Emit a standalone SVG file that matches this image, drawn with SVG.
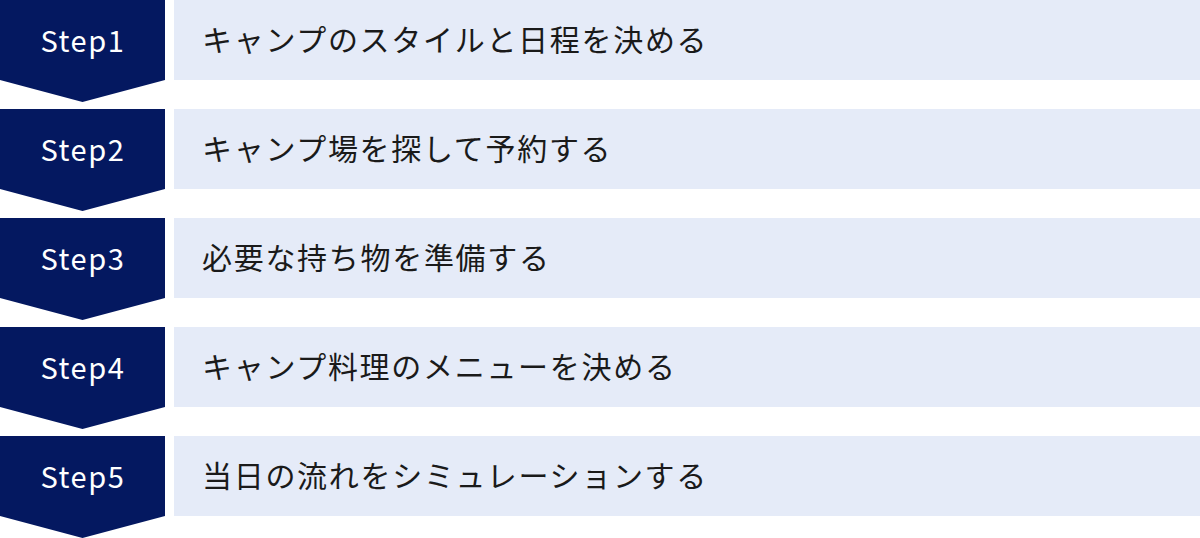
<svg xmlns="http://www.w3.org/2000/svg" width="1200" height="538" viewBox="0 0 1200 538">
  <defs>
    <style>
      .badge { fill: #041860; }
      .bar { fill: #E5EBF8; }
      .step { fill: #ffffff; font-family: "Noto Sans CJK JP", "Noto Sans", sans-serif; font-size: 29px; letter-spacing: 1.6px; text-anchor: middle; }
      .label { fill: #1a1a1a; font-family: "Noto Sans CJK JP", sans-serif; font-size: 30px; letter-spacing: 1.7px; }
    </style>
    <path id="chev" d="M0 0 H165 V80 L82.5 102 L0 80 Z"/>
  </defs>
  <g id="connectors"></g>
  <g id="step1" transform="translate(0,0)">
    <use href="#chev" class="badge"/>
    <rect class="bar" x="174" y="0" width="1026" height="80"/>
    <text class="step" x="83" y="52">Step1</text>
    <text class="label" x="202" y="51">キャンプのスタイルと日程を決める</text>
  </g>
  <g id="step2" transform="translate(0,109)">
    <use href="#chev" class="badge"/>
    <rect class="bar" x="174" y="0" width="1026" height="80"/>
    <text class="step" x="83" y="52">Step2</text>
    <text class="label" x="202" y="51">キャンプ場を探して予約する</text>
  </g>
  <g id="step3" transform="translate(0,218)">
    <use href="#chev" class="badge"/>
    <rect class="bar" x="174" y="0" width="1026" height="80"/>
    <text class="step" x="83" y="52">Step3</text>
    <text class="label" x="202" y="51">必要な持ち物を準備する</text>
  </g>
  <g id="step4" transform="translate(0,327)">
    <use href="#chev" class="badge"/>
    <rect class="bar" x="174" y="0" width="1026" height="80"/>
    <text class="step" x="83" y="52">Step4</text>
    <text class="label" x="202" y="51">キャンプ料理のメニューを決める</text>
  </g>
  <g id="step5" transform="translate(0,436)">
    <use href="#chev" class="badge"/>
    <rect class="bar" x="174" y="0" width="1026" height="80"/>
    <text class="step" x="83" y="52">Step5</text>
    <text class="label" x="202" y="51">当日の流れをシミュレーションする</text>
  </g>
</svg>
